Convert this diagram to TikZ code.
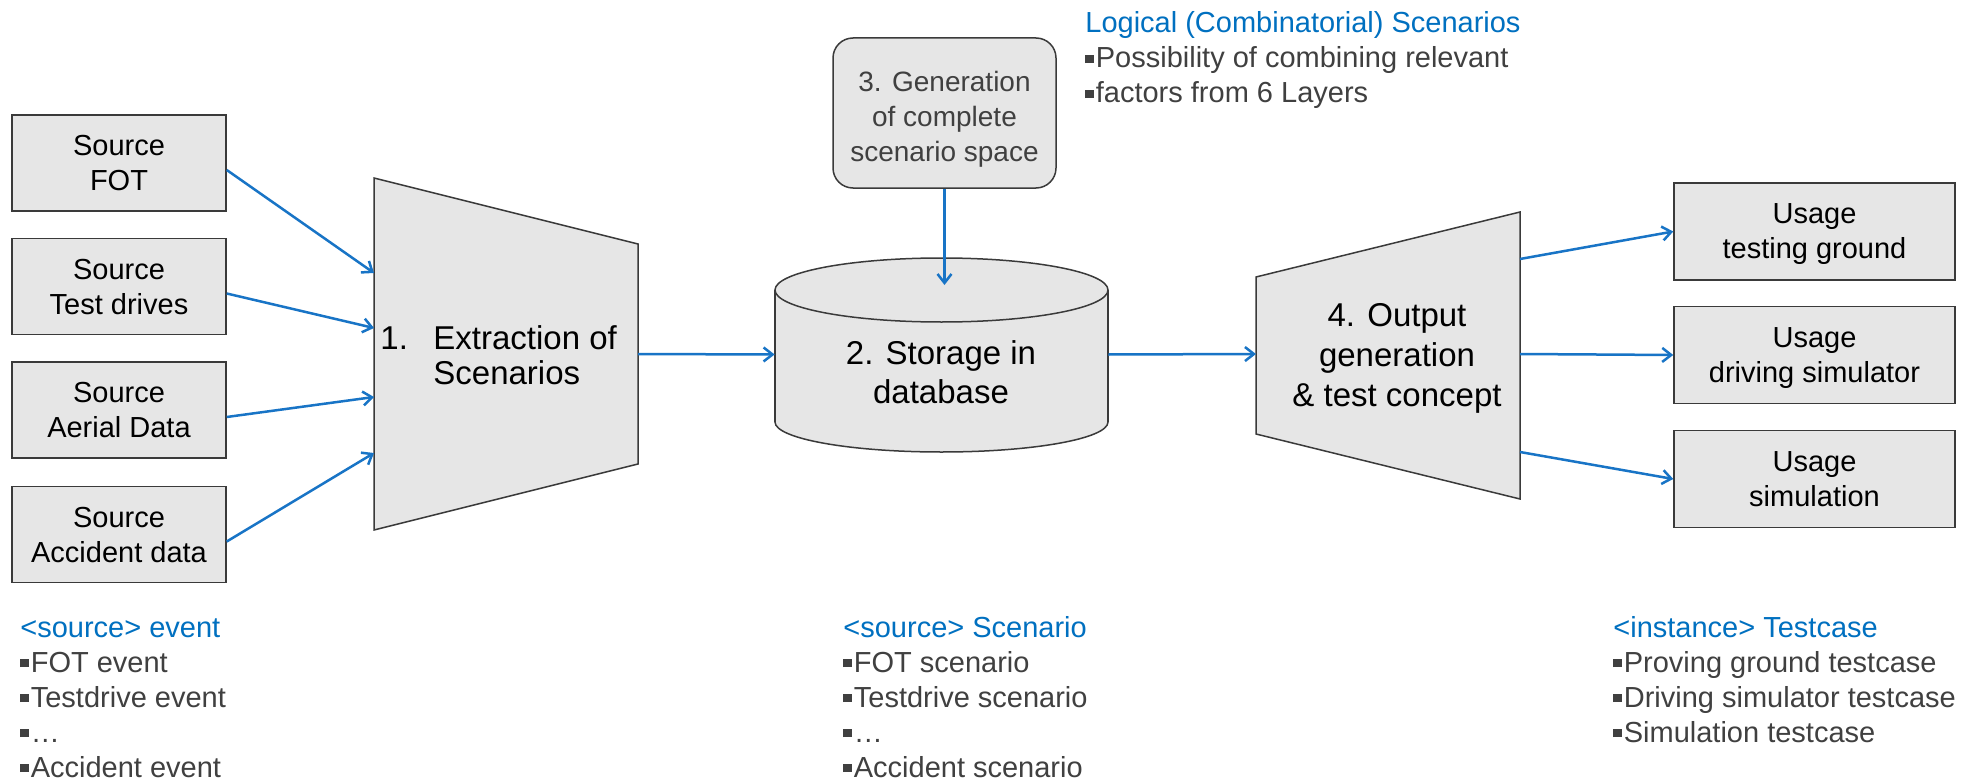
\documentclass[tikz,border=0pt]{standalone}
\usepackage{fontspec}
\setmainfont{Liberation Sans}
\usetikzlibrary{arrows.meta}
\definecolor{hblue}{HTML}{0070C0}
\definecolor{ablue}{HTML}{1874C6}
\definecolor{boxfill}{HTML}{E6E6E6}
\definecolor{boxline}{HTML}{3A3A3A}
\definecolor{txtgray}{HTML}{404040}
\newcommand{\mybul}{\rule[0.17em]{0.28em}{0.28em}\hspace{0.08em}}
\begin{document}
\begin{tikzpicture}[x=0.5pt,y=-0.5pt,
  srcbox/.style={draw=boxline, fill=boxfill, line width=0.75pt, minimum width=107pt, minimum height=48pt, inner sep=0pt, align=center, text depth=0pt, font=\fontsize{14.5}{17.5}\selectfont},
  usebox/.style={srcbox, minimum width=140.5pt, minimum height=48.5pt},
  genbox/.style={draw=boxline, fill=boxfill, line width=0.75pt, rounded corners=10pt, minimum width=111.5pt, minimum height=75pt, inner sep=0pt},
  gentext/.style={inner sep=0pt, align=center, text=txtgray, font=\fontsize{14}{17.5}\selectfont},
  shp/.style={draw=boxline, fill=boxfill, line width=0.75pt},
  arr/.style={draw=ablue, line width=1.25pt, -{Straight Barb[length=4.5pt,width=7pt,line width=1.25pt]}},
  lst/.style={anchor=base west, inner sep=0pt, text=txtgray, font=\fontsize{14.5}{17.5}\selectfont},
  hd/.style={lst, text=hblue}]
\fill[white] (0,0) rectangle (1965,781);
\useasboundingbox (0,0) rectangle (1965,781);

% source boxes
\node[srcbox] (s1) at (119,163) {Source\\FOT};
\node[srcbox] (s2) at (119,286.5) {Source\\Test drives};
\node[srcbox] (s3) at (119,410) {Source\\Aerial Data};
\node[srcbox] (s4) at (119,534.5) {Source\\Accident data};

% trapezoid 1
\filldraw[shp] (374,178) -- (638,244) -- (638,464) -- (374,530) -- cycle;
\coordinate (t1a) at (374,273);
\coordinate (t1b) at (374,328);
\coordinate (t1c) at (374,397);
\coordinate (t1d) at (374,453);
\coordinate (t1o) at (638,354);
\node[anchor=west, align=left, inner sep=0pt, font=\fontsize{16.5}{17.5}\selectfont] (t1txt) at (380,355)
  {\makebox[26.5pt][l]{1.}Extraction of\\\hspace*{26.5pt}Scenarios};

% database cylinder
\node[minimum width=166.5pt, minimum height=96.5pt, inner sep=0pt] (db) at (941.5,354.5) {};
\filldraw[shp] (941.5,422) ellipse [x radius=83.25pt, y radius=15pt];
\fill[boxfill] (775,290) rectangle (1108,422);
\draw[boxline, line width=0.75pt] (775,290) -- (775,422) (1108,290) -- (1108,422);
\filldraw[shp] (941.5,290) ellipse [x radius=83.25pt, y radius=16pt];
\coordinate (dbtop) at (944.5,285);
\node[align=center, inner sep=0pt, font=\fontsize{16.5}{19.5}\selectfont] (dbtxt) at (941,372) {2. Storage in\\database};

% generation box
\node[genbox] (gen) at (944.5,113) {};
\node[gentext] (gentxt) at (944.5,119) {3. Generation\\of complete\\scenario space};

% trapezoid 2
\filldraw[shp] (1256,277) -- (1520,212) -- (1520,499) -- (1256,434) -- cycle;
\coordinate (t2i) at (1256,354);
\coordinate (t2a) at (1520,259);
\coordinate (t2b) at (1520,354);
\coordinate (t2c) at (1520,452);
\node[align=center, inner sep=0pt, font=\fontsize{16.5}{20}\selectfont] (t2txt) at (1397,358) {4. Output\\generation\\\& test concept};

% usage boxes
\node[usebox] (u1) at (1814.5,231.5) {Usage\\testing ground};
\node[usebox] (u2) at (1814.5,355) {Usage\\driving simulator};
\node[usebox] (u3) at (1814.5,479) {Usage\\simulation};

% connectors
\draw[arr] ([yshift=-3.5pt]s1.east) -- (t1a);
\draw[arr] ([yshift=-3.5pt]s2.east) -- (t1b);
\draw[arr] ([yshift=-3.5pt]s3.east) -- (t1c);
\draw[arr] ([yshift=-3.5pt]s4.east) -- (t1d);
\draw[arr] (t1o) -- (db.west);
\draw[arr] (gen.south) -- (dbtop);
\draw[arr] (db.east) -- (t2i);
\draw[arr] (t2a) -- (u1.west);
\draw[arr] (t2b) -- (u2.west);
\draw[arr] (t2c) -- (u3.west);

% top right text
\node[hd] (lg) at (1085,33) {Logical (Combinatorial) Scenarios};
\node[lst] (lg1) at (1085,68) {\mybul Possibility of combining relevant};
\node[lst] (lg2) at (1085,103) {\mybul factors from 6 Layers};

% bottom left
\node[hd] (ev) at (20,637) {<source> event};
\node[lst] (ev1) at (20,672) {\mybul FOT event};
\node[lst] (ev2) at (20,707) {\mybul Testdrive event};
\node[lst] (ev3) at (20,742) {\mybul …};
\node[lst] (ev4) at (20,777) {\mybul Accident event};

% bottom middle
\node[hd] (sc) at (843,637) {<source> Scenario};
\node[lst] (sc1) at (843,672) {\mybul FOT scenario};
\node[lst] (sc2) at (843,707) {\mybul Testdrive scenario};
\node[lst] (sc3) at (843,742) {\mybul …};
\node[lst] (sc4) at (843,777) {\mybul Accident scenario};

% bottom right
\node[hd] (tc) at (1613,637) {<instance> Testcase};
\node[lst] (tc1) at (1613,672) {\mybul Proving ground testcase};
\node[lst] (tc2) at (1613,707) {\mybul Driving simulator testcase};
\node[lst] (tc3) at (1613,742) {\mybul Simulation testcase};
\end{tikzpicture}
\end{document}
